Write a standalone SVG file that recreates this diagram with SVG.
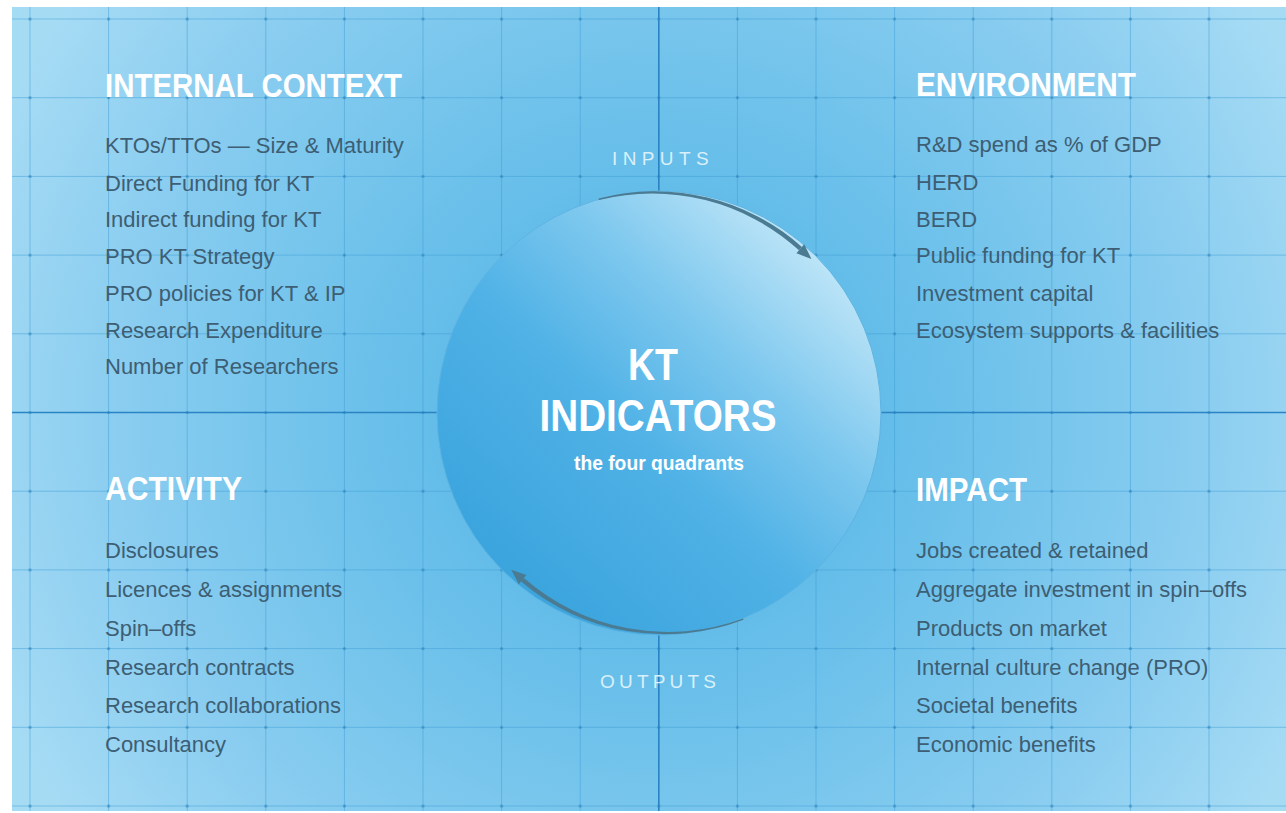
<svg xmlns="http://www.w3.org/2000/svg" width="1286" height="813" viewBox="0 0 1286 813">
  <defs>
    <radialGradient id="bgGrad" gradientUnits="userSpaceOnUse" cx="659" cy="413" r="720">
      <stop offset="0" stop-color="#4eb1e5"/>
      <stop offset="0.4" stop-color="#6ac0ea"/>
      <stop offset="0.75" stop-color="#8acdf0"/>
      <stop offset="1" stop-color="#a6dbf4"/>
    </radialGradient>
    <linearGradient id="circGrad" x1="0.1" y1="0.9" x2="0.85" y2="0.1">
      <stop offset="0" stop-color="#38a2dc"/>
      <stop offset="0.45" stop-color="#50b2e6"/>
      <stop offset="0.7" stop-color="#7cc7ee"/>
      <stop offset="1" stop-color="#c2e7f8"/>
    </linearGradient>
    <pattern id="grid" patternUnits="userSpaceOnUse" x="-9.3" y="-20.35" width="78.6" height="78.7">
      <line x1="39.3" y1="0" x2="39.3" y2="78.7" stroke="#3d9dd6" stroke-opacity="0.5" stroke-width="1"/>
      <line x1="0" y1="39.35" x2="78.6" y2="39.35" stroke="#3d9dd6" stroke-opacity="0.5" stroke-width="1"/>
      <circle cx="39.3" cy="39.35" r="1.6" fill="#2f86c0" fill-opacity="0.7"/>
    </pattern>
  </defs>
  <style>
    .head { font-family: "Liberation Sans", Arial, sans-serif; font-weight: bold; font-size: 33px; fill: #ffffff; }
    .item { font-family: "Liberation Sans", Arial, sans-serif; font-size: 22px; fill: #3d5e73; }
    .flow { font-family: "Liberation Sans", Arial, sans-serif; font-size: 19px; fill: #d9f0fa; letter-spacing: 5.4px; }
    .flow.out { letter-spacing: 4.2px; }
    .big { font-family: "Liberation Sans", Arial, sans-serif; font-weight: bold; font-size: 44px; fill: #ffffff; }
    .sub { font-family: "Liberation Sans", Arial, sans-serif; font-weight: bold; font-size: 20px; fill: #ffffff; }
    .arrow { fill: #4b7b93; }
  </style>

  <rect x="0" y="0" width="1286" height="813" fill="#ffffff"/>
  <rect x="12" y="7" width="1274" height="804" fill="url(#bgGrad)"/>
  <rect x="12" y="7" width="1274" height="804" fill="url(#grid)"/>
  <line x1="658.8" y1="7" x2="658.8" y2="811" stroke="#2a84c4" stroke-width="1.6"/>
  <line x1="12" y1="412.5" x2="1286" y2="412.5" stroke="#2a84c4" stroke-width="1.6"/>

  <g id="kt-indicators">
    <circle cx="659" cy="413" r="222" fill="url(#circGrad)" stroke="#5cb4e2" stroke-width="1"/>
    <text class="big" x="653" y="380" text-anchor="middle" textLength="50" lengthAdjust="spacingAndGlyphs">KT</text>
    <text class="big" x="658" y="431" text-anchor="middle" textLength="237" lengthAdjust="spacingAndGlyphs">INDICATORS</text>
    <text class="sub" x="659" y="470" text-anchor="middle" textLength="170" lengthAdjust="spacingAndGlyphs">the four quadrants</text>
  </g>

  <g id="inputs-label">
    <text class="flow" x="612" y="165">INPUTS</text>
  </g>
  <g id="outputs-label">
    <text class="flow out" x="600" y="688">OUTPUTS</text>
  </g>

  <g id="connectors">
    <path class="arrow" d="M598.5,198.6 A222,222 0 0 1 801.9,246.9 L799.0,250.3 A218,218 0 0 0 599.0,200.1 Z"/>
    <polygon class="arrow" points="804.2,244.2 811.4,258.9 796.4,253.3"/>
    <path class="arrow" d="M743.5,619.8 A222,222 0 0 1 521.0,581.6 L523.9,578.1 A218,218 0 0 0 743.0,618.4 Z"/>
    <polygon class="arrow" points="518.8,584.3 511.3,569.7 526.4,575.0"/>
  </g>

  <g id="internal-context">
    <text class="head" x="105" y="97" textLength="297" lengthAdjust="spacingAndGlyphs">INTERNAL CONTEXT</text>
    <text class="item" x="105" y="153">KTOs/TTOs — Size &amp; Maturity</text>
    <text class="item" x="105" y="191">Direct Funding for KT</text>
    <text class="item" x="105" y="227">Indirect funding for KT</text>
    <text class="item" x="105" y="264">PRO KT Strategy</text>
    <text class="item" x="105" y="301">PRO policies for KT &amp; IP</text>
    <text class="item" x="105" y="338">Research Expenditure</text>
    <text class="item" x="105" y="374">Number of Researchers</text>
  </g>

  <g id="environment">
    <text class="head" x="916" y="96" textLength="220" lengthAdjust="spacingAndGlyphs">ENVIRONMENT</text>
    <text class="item" x="916" y="152">R&amp;D spend as % of GDP</text>
    <text class="item" x="916" y="190">HERD</text>
    <text class="item" x="916" y="227">BERD</text>
    <text class="item" x="916" y="263">Public funding for KT</text>
    <text class="item" x="916" y="301">Investment capital</text>
    <text class="item" x="916" y="338">Ecosystem supports &amp; facilities</text>
  </g>

  <g id="activity">
    <text class="head" x="105" y="500" textLength="137" lengthAdjust="spacingAndGlyphs">ACTIVITY</text>
    <text class="item" x="105" y="558">Disclosures</text>
    <text class="item" x="105" y="597">Licences &amp; assignments</text>
    <text class="item" x="105" y="636">Spin–offs</text>
    <text class="item" x="105" y="675">Research contracts</text>
    <text class="item" x="105" y="713">Research collaborations</text>
    <text class="item" x="105" y="752">Consultancy</text>
  </g>

  <g id="impact">
    <text class="head" x="916" y="501" textLength="111" lengthAdjust="spacingAndGlyphs">IMPACT</text>
    <text class="item" x="916" y="558">Jobs created &amp; retained</text>
    <text class="item" x="916" y="597">Aggregate investment in spin–offs</text>
    <text class="item" x="916" y="636">Products on market</text>
    <text class="item" x="916" y="675">Internal culture change (PRO)</text>
    <text class="item" x="916" y="713">Societal benefits</text>
    <text class="item" x="916" y="752">Economic benefits</text>
  </g>
</svg>
